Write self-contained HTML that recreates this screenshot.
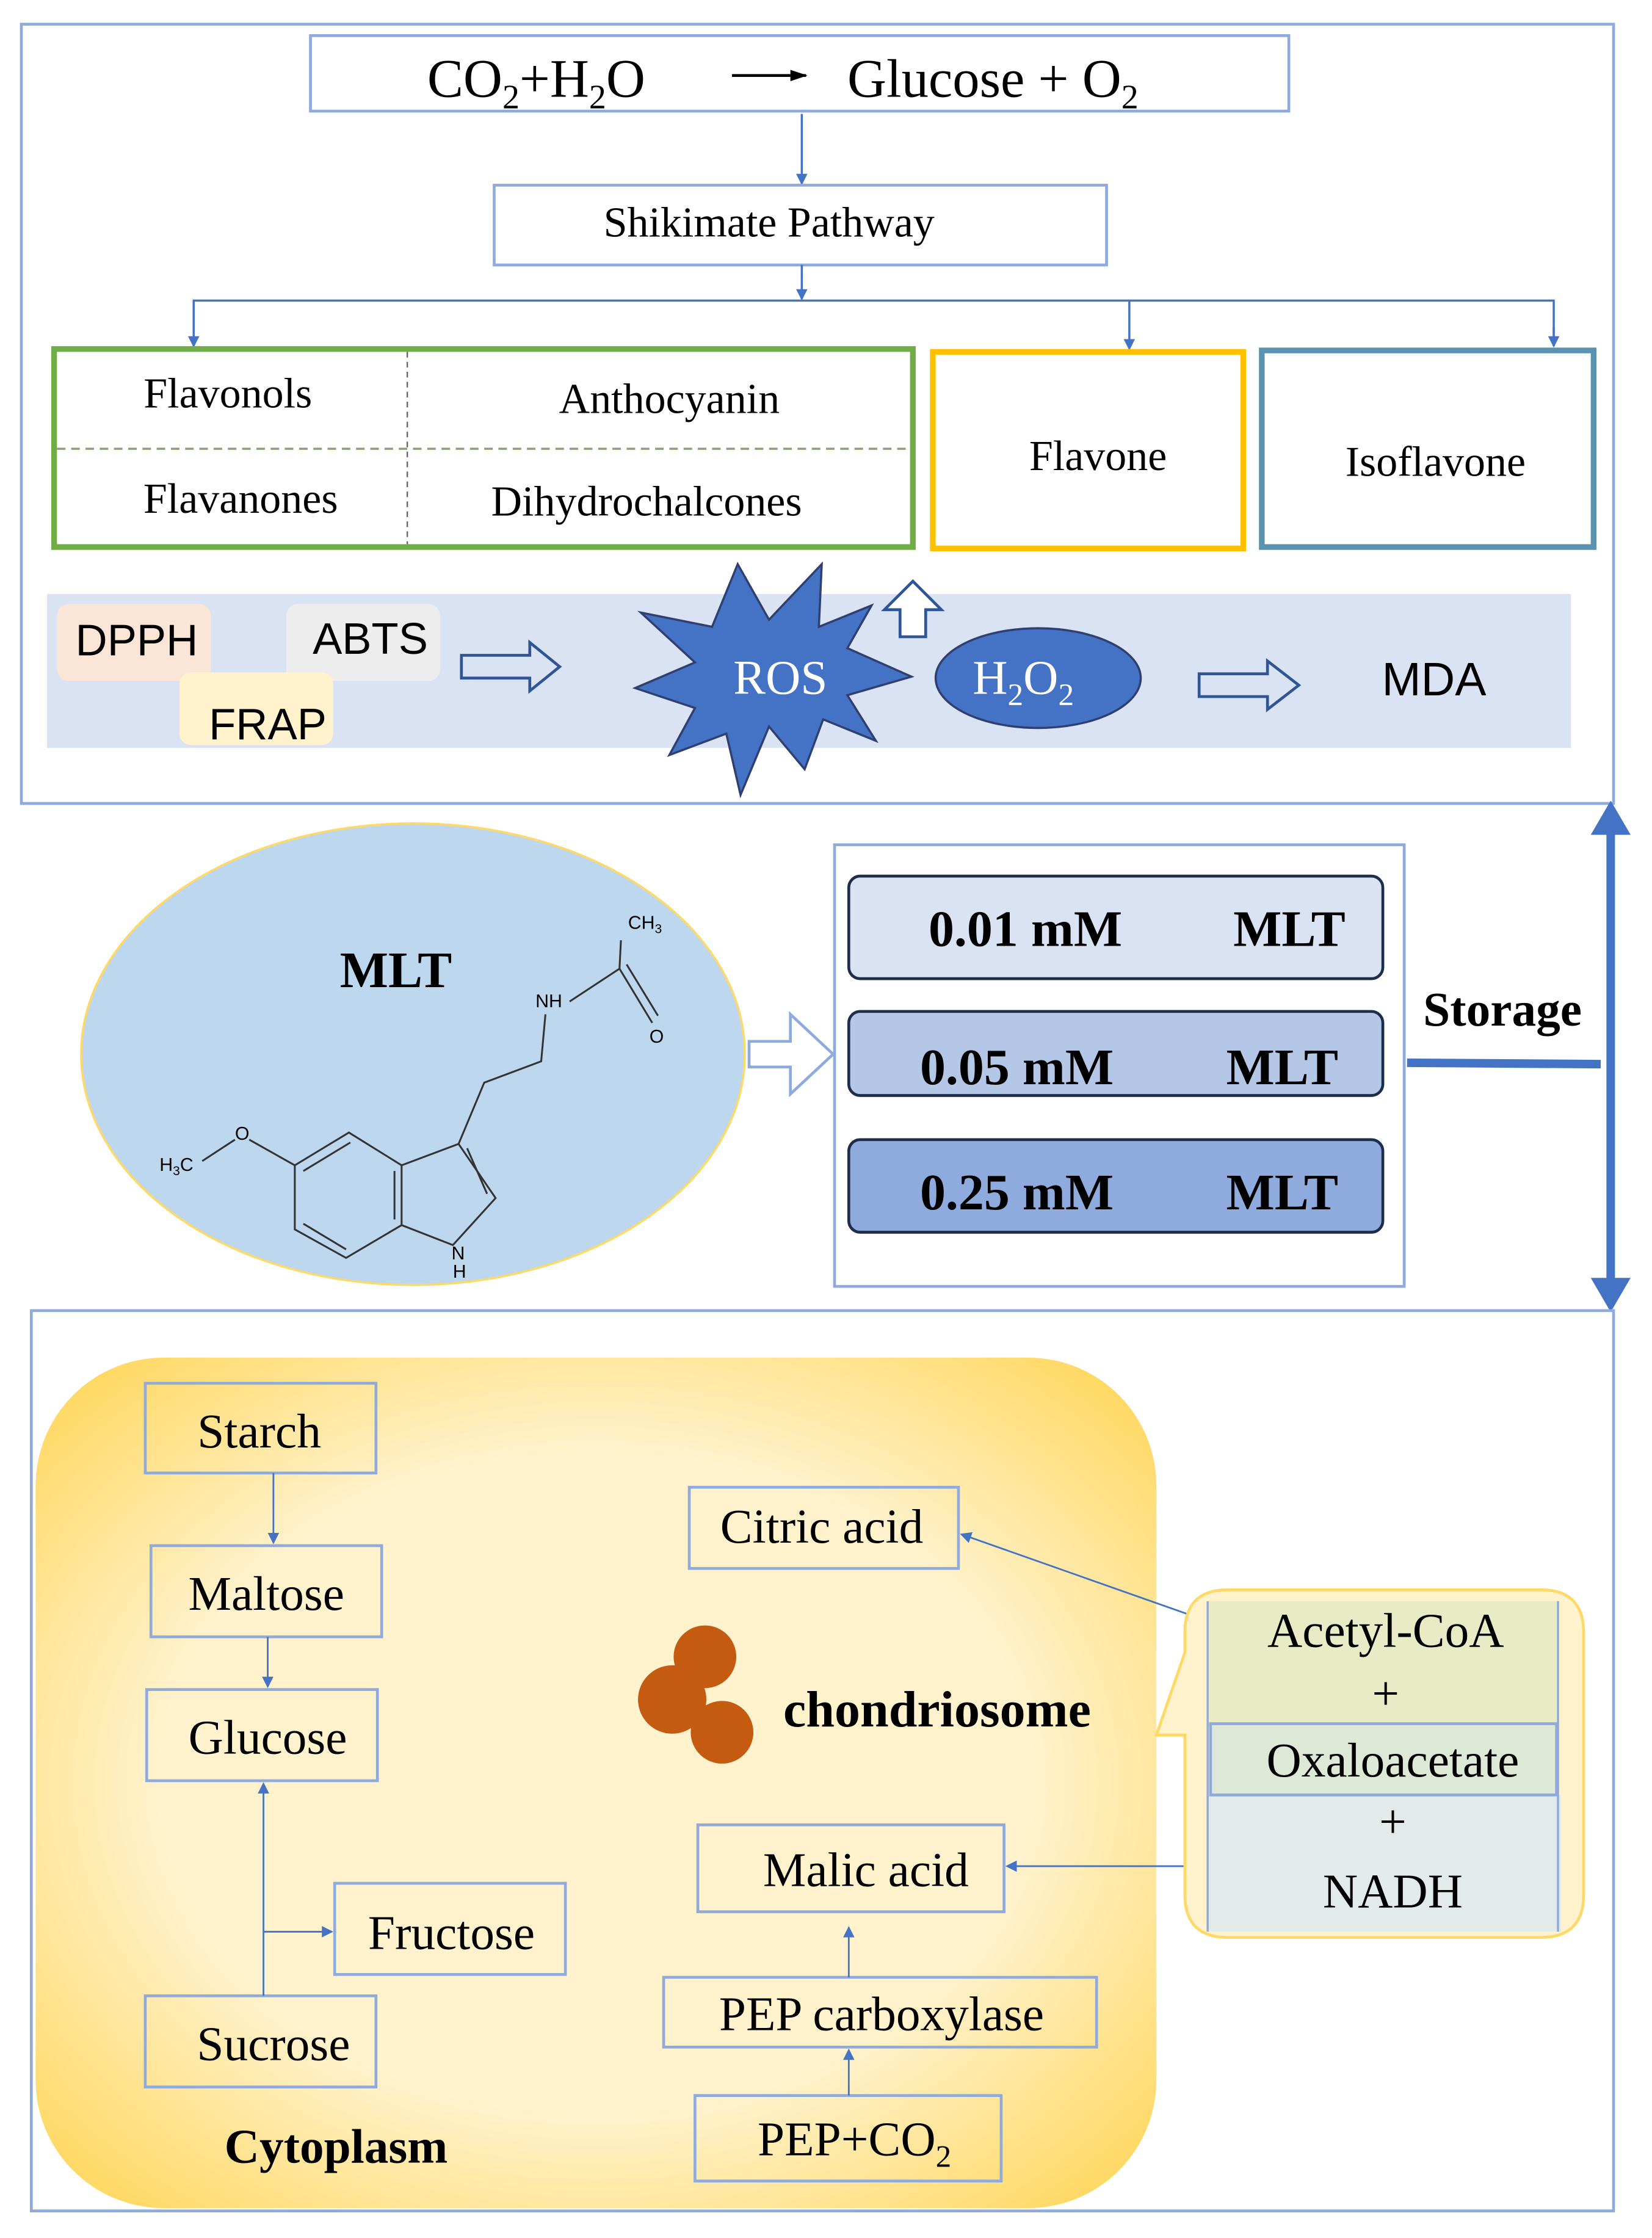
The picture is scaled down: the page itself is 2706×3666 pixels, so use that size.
<!DOCTYPE html>
<html><head><meta charset="utf-8"><style>
html,body{margin:0;padding:0;background:#fff;}
svg{display:block;}
.s{font-family:"Liberation Serif",serif;}
.a{font-family:"Liberation Sans",sans-serif;}
</style></head><body>
<svg width="2706" height="3666" viewBox="0 0 1160 1571" preserveAspectRatio="none" xmlns="http://www.w3.org/2000/svg">
<defs>
<marker id="ar" markerWidth="8" markerHeight="8" refX="7" refY="4" orient="auto" markerUnits="userSpaceOnUse"><path d="M0,0 L8,4 L0,8 z" fill="#4472c4"/></marker>
<marker id="ak" markerWidth="12" markerHeight="10" refX="11" refY="5" orient="auto" markerUnits="userSpaceOnUse"><path d="M0,1 L12,5 L0,9 z" fill="#000"/></marker>
<marker id="ab" markerWidth="6" markerHeight="6" refX="3" refY="3" orient="auto" markerUnits="strokeWidth"><path d="M0,0 L6,3 L0,6 z" fill="#4472c4"/></marker>
<radialGradient id="yg" cx="50%" cy="50%" r="65%"><stop offset="0.6" stop-color="#fff2cc"/><stop offset="1" stop-color="#ffd966"/></radialGradient>
</defs>
<rect width="1160" height="1571" fill="#fff"/>
<!-- top section -->
<rect x="15" y="17" width="1118" height="547" fill="none" stroke="#8faadc" stroke-width="2"/>
<rect x="218" y="25" width="687" height="53" fill="none" stroke="#8faadc" stroke-width="2"/>
<text class="s" x="300" y="68" font-size="38">CO<tspan font-size="24" dy="8">2</tspan><tspan dy="-8">+H</tspan><tspan font-size="24" dy="8">2</tspan><tspan dy="-8">O</tspan></text>
<line x1="514" y1="53" x2="566" y2="53" stroke="#000" stroke-width="2" marker-end="url(#ak)"/>
<text class="s" x="595" y="68" font-size="38">Glucose + O<tspan font-size="24" dy="8">2</tspan></text>
<line x1="563" y1="80" x2="563" y2="129" stroke="#4472c4" stroke-width="1.5" marker-end="url(#ar)"/>
<rect x="347" y="130" width="430" height="56" fill="none" stroke="#8faadc" stroke-width="2"/>
<text class="s" x="540" y="166" font-size="30" text-anchor="middle">Shikimate  Pathway</text>
<line x1="563" y1="186" x2="563" y2="210" stroke="#4472c4" stroke-width="1.5" marker-end="url(#ar)"/>
<polyline points="136,243 136,211 1091,211 1091,243" fill="none" stroke="#4472c4" stroke-width="1.5"/>
<line x1="136" y1="230" x2="136" y2="243" stroke="#4472c4" stroke-width="1.5" marker-end="url(#ar)"/>
<line x1="1091" y1="230" x2="1091" y2="243" stroke="#4472c4" stroke-width="1.5" marker-end="url(#ar)"/>
<line x1="793" y1="211" x2="793" y2="245" stroke="#4472c4" stroke-width="1.5" marker-end="url(#ar)"/>
<rect x="38" y="245" width="603" height="139" fill="none" stroke="#70ad47" stroke-width="4"/>
<line x1="40" y1="315" x2="639" y2="315" stroke="#8aa07a" stroke-width="1.5" stroke-dasharray="6,4"/>
<line x1="286" y1="247" x2="286" y2="382" stroke="#666" stroke-width="1" stroke-dasharray="4,3"/>
<text class="s" x="160" y="286" font-size="30" text-anchor="middle">Flavonols</text>
<text class="s" x="470" y="290" font-size="30" text-anchor="middle">Anthocyanin</text>
<text class="s" x="169" y="360" font-size="30" text-anchor="middle">Flavanones</text>
<text class="s" x="454" y="362" font-size="30" text-anchor="middle">Dihydrochalcones</text>
<rect x="655" y="247" width="218" height="138" fill="none" stroke="#ffc000" stroke-width="4"/>
<text class="s" x="771" y="330" font-size="30" text-anchor="middle">Flavone</text>
<rect x="886" y="246" width="233" height="138" fill="none" stroke="#5b92b0" stroke-width="4"/>
<text class="s" x="1008" y="334" font-size="30" text-anchor="middle">Isoflavone</text>
<rect x="33" y="417" width="1070" height="108" fill="#dae3f3"/>
<rect x="40" y="424" width="108" height="54" rx="8" fill="#fbe5d6"/>
<rect x="201" y="424" width="108" height="54" rx="8" fill="#ededed"/>
<rect x="126" y="472" width="108" height="51" rx="8" fill="#fff2cc"/>
<text class="a" x="96" y="460" font-size="31" text-anchor="middle">DPPH</text>
<text class="a" x="260" y="459" font-size="31" text-anchor="middle">ABTS</text>
<text class="a" x="188" y="519" font-size="31" text-anchor="middle">FRAP</text>
<path d="M324,460 L372,460 L372,451 L393,468 L372,485 L372,476 L324,476 z" fill="none" stroke="#2f5597" stroke-width="2"/>
<path d="M518,396 L540,435 L577,396 L575,440 L612,425 L595,455 L640,475 L595,488 L615,520 L578,505 L565,540 L540,510 L520,558 L510,515 L470,530 L488,497 L446,483 L488,465 L450,430 L500,440 z" fill="#4472c4" stroke="#2f3f6f" stroke-width="1.5"/>
<text class="s" x="548" y="487" font-size="34" fill="#fff" text-anchor="middle">ROS</text>
<path d="M632,447 L632,428 L621,428 L641,408 L661,428 L650,428 L650,447 z" fill="#fff" stroke="#2f5597" stroke-width="2"/>
<ellipse cx="729" cy="476" rx="72" ry="35" fill="#4472c4" stroke="#2f3f6f" stroke-width="1.5"/>
<text class="s" x="683" y="487" font-size="34" fill="#fff">H<tspan font-size="22" dy="8">2</tspan><tspan dy="-8">O</tspan><tspan font-size="22" dy="8">2</tspan></text>
<path d="M842,473 L890,473 L890,464 L912,481 L890,498 L890,489 L842,489 z" fill="none" stroke="#2f5597" stroke-width="2"/>
<text class="a" x="1007" y="488" font-size="33" text-anchor="middle">MDA</text>
<!-- middle -->
<ellipse cx="290" cy="740" rx="233" ry="162" fill="#bdd7ee" stroke="#ffd966" stroke-width="1.5"/>
<text class="s" x="278" y="693" font-size="36" font-weight="bold" text-anchor="middle">MLT</text>
<g stroke="#333" stroke-width="1.3" fill="none">
<path d="M322,803 L282,818 L282,860 L243,883 L207,863 L207,818 L245,795 L282,818"/>
<path d="M213,822 L246,802 M213,859 L243,877 M277,856 L277,822"/>
<path d="M282,860 L318,874 L348,841 L322,803 L340,760 L380,745 L383,712"/>
<path d="M328,806 L342,838"/>
<path d="M400,703 L435,680 L436,660 M435,680 L458,718 M440,677 L462,713"/>
<path d="M207,818 L175,800 M165,800 L142,815"/>
</g>
<text class="a" x="441" y="652" font-size="13">CH<tspan font-size="9" dy="3">3</tspan></text>
<text class="a" x="376" y="707" font-size="13">NH</text>
<text class="a" x="456" y="732" font-size="13">O</text>
<text class="a" x="165" y="800" font-size="13">O</text>
<text class="a" x="112" y="822" font-size="13">H<tspan font-size="9" dy="3">3</tspan><tspan dy="-3">C</tspan></text>
<text class="a" x="317" y="884" font-size="13">N</text>
<text class="a" x="318" y="897" font-size="13">H</text>
<path d="M526,731 L555,731 L555,712 L585,740 L555,768 L555,749 L526,749 z" fill="#fff" stroke="#8faadc" stroke-width="2"/>
<rect x="586" y="593" width="400" height="310" fill="none" stroke="#8faadc" stroke-width="2"/>
<rect x="596" y="615" width="375" height="72" rx="8" fill="#dae3f3" stroke="#1f2d4d" stroke-width="2"/>
<rect x="596" y="710" width="375" height="59" rx="8" fill="#b4c7e7" stroke="#1f2d4d" stroke-width="2"/>
<rect x="596" y="800" width="375" height="65" rx="8" fill="#8faadc" stroke="#1f2d4d" stroke-width="2"/>
<g class="s" font-size="36" font-weight="bold">
<text x="652" y="664">0.01  mM</text><text x="866" y="664">MLT</text>
<text x="646" y="761">0.05  mM</text><text x="861" y="761">MLT</text>
<text x="646" y="849">0.25  mM</text><text x="861" y="849">MLT</text>
</g>
<text class="s" x="1055" y="720" font-size="34" font-weight="bold" text-anchor="middle">Storage</text>
<line x1="988" y1="746" x2="1124" y2="747" stroke="#4472c4" stroke-width="6"/>
<line x1="1131" y1="585" x2="1131" y2="898" stroke="#4472c4" stroke-width="6"/>
<path d="M1117,586 L1131,562 L1145,586 z" fill="#4472c4"/>
<path d="M1117,897 L1131,921 L1145,897 z" fill="#4472c4"/>
<!-- bottom -->
<rect x="22" y="920" width="1111" height="632" fill="none" stroke="#8faadc" stroke-width="2"/>
<rect x="25" y="953" width="787" height="597" rx="90" fill="url(#yg)"/>
<g stroke="#8faadc" stroke-width="2" fill="none">
<rect x="102" y="971" width="162" height="63"/>
<rect x="106" y="1085" width="162" height="64"/>
<rect x="103" y="1186" width="162" height="64"/>
<rect x="235" y="1322" width="162" height="64"/>
<rect x="102" y="1401" width="162" height="64"/>
<rect x="484" y="1044" width="189" height="57"/>
<rect x="490" y="1281" width="215" height="61"/>
<rect x="466" y="1388" width="304" height="49"/>
<rect x="488" y="1471" width="215" height="60"/>
</g>
<g class="s" font-size="34" text-anchor="middle">
<text x="182" y="1016">Starch</text>
<text x="187" y="1130">Maltose</text>
<text x="188" y="1231">Glucose</text>
<text x="317" y="1368">Fructose</text>
<text x="192" y="1446">Sucrose</text>
<text x="577" y="1083">Citric acid</text>
<text x="608" y="1324">Malic acid</text>
<text x="619" y="1425">PEP carboxylase</text>
<text x="600" y="1513">PEP+CO<tspan font-size="22" dy="8">2</tspan></text>
</g>
<g stroke="#4472c4" stroke-width="1.2" fill="none">
<line x1="192" y1="1034" x2="192" y2="1083" marker-end="url(#ar)"/>
<line x1="188" y1="1149" x2="188" y2="1184" marker-end="url(#ar)"/>
<line x1="185" y1="1401" x2="185" y2="1252" marker-end="url(#ar)"/>
<line x1="185" y1="1356" x2="233" y2="1356" marker-end="url(#ar)"/>
<line x1="596" y1="1471" x2="596" y2="1439" marker-end="url(#ar)"/>
<line x1="596" y1="1388" x2="596" y2="1353" marker-end="url(#ar)"/>
<line x1="848" y1="1138" x2="675" y2="1077" marker-end="url(#ar)"/>
<line x1="848" y1="1310" x2="707" y2="1310" marker-end="url(#ar)"/>
</g>
<circle cx="495" cy="1163" r="22" fill="#c55a11"/>
<circle cx="472" cy="1193" r="24" fill="#c55a11"/>
<circle cx="507" cy="1216" r="22" fill="#c55a11"/>
<text class="s" x="658" y="1212" font-size="36" font-weight="bold" text-anchor="middle">chondriosome</text>
<text class="s" x="236" y="1518" font-size="34" font-weight="bold" text-anchor="middle">Cytoplasm</text>
<path d="M872,1116 L1082,1116 Q1112,1116 1112,1146 L1112,1330 Q1112,1360 1082,1360 L862,1360 Q832,1360 832,1330 L832,1218 L812,1218 L832,1160 L832,1146 Q832,1116 862,1116 z" fill="#fff2cc" stroke="#ffd966" stroke-width="2"/>
<rect x="848" y="1124" width="246" height="88" fill="#e9ebc6"/>
<rect x="848" y="1260" width="248" height="96" fill="#e2eaea"/>
<rect x="850" y="1210" width="243" height="50" fill="#dde8d6" stroke="#8faadc" stroke-width="2"/>
<line x1="848" y1="1124" x2="848" y2="1356" stroke="#8faadc" stroke-width="1.5"/>
<line x1="1094" y1="1124" x2="1094" y2="1356" stroke="#8faadc" stroke-width="1.5"/>
<g class="s" font-size="34" text-anchor="middle">
<text x="973" y="1156">Acetyl-CoA</text>
<text x="973" y="1200">+</text>
<text x="978" y="1247">Oxaloacetate</text>
<text x="978" y="1290">+</text>
<text x="978" y="1339">NADH</text>
</g>
</svg>
</body></html>
